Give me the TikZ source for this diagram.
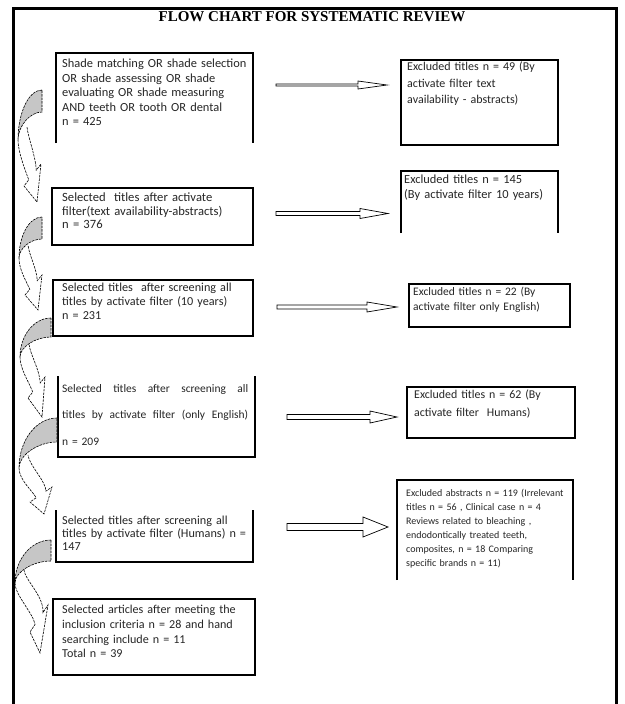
\documentclass[tikz,border=0pt]{standalone}
\usepackage{fontspec}
\setmainfont{Carlito}
\newfontfamily\titlefont{Liberation Serif}
\usetikzlibrary{calc}
\newcommand\fsz[2]{\fontsize{#1}{#2}\selectfont}
\newcommand\jline[1]{\leavevmode\hbox to 186pt{#1}}
\tikzset{
 edge/.style={draw=black, line width=1.1pt},
 frame/.style={inner sep=0, outer sep=0, anchor=north west},
 txt/.style={anchor=base west, inner sep=0, text width=205pt, align=left, text=black!85},
 band/.style={draw=black, line width=0.6pt, dash pattern=on 2.5pt off 1pt, fill=white},
 cres/.style={draw=black, line width=0.6pt, dash pattern=on 2.5pt off 1pt, fill=gray!45},
 barrow/.style={draw=black, line width=0.7pt, fill=white},
}
\newcommand\curvarr[7]{%
 \coordinate (#1tt) at (#2);
 \coordinate (#1tb) at (#3);
 \coordinate (#1ct) at (#4);
 \coordinate (#1wa) at (#5);
 \coordinate (#1hp) at (#6);
 \coordinate (#1wb) at (#7);
 \coordinate (#1bl) at ($(#1wa)!0.28!(#1wb)$);
 \coordinate (#1br) at ($(#1wa)!0.72!(#1wb)$);
 \coordinate (#1ip) at ($(#1ct)+(9,-13)$);
 \path[band] (#1ct) .. controls ($(#1ct)+(0,12)$) and ($(#1bl)!-0.4!(#1hp)$) .. (#1bl) -- (#1wa) -- (#1hp) -- (#1wb) -- (#1br) .. controls ($(#1br)!-0.4!(#1hp)$) and ($(#1ip)+(1,10)$) .. (#1ip);
 \path[cres] (#1tt) .. controls ($(#1tt)!0.55!(#1tt-|#1ct)$) and ($(#1ct|-#1tt)!0.45!(#1ct)$) .. (#1ct) .. controls ($(#1ct)!0.5!(#1ct|-#1tb)$) and ($(#1tb)!0.5!(#1tb-|#1ct)$) .. (#1tb) -- cycle;
}
\newcommand\blockarr[7]{% name, x1, x2, xh, yc, shaft half, head half
 \coordinate (#1s) at (#2,#5);
 \coordinate (#1h) at (#4,#5);
 \path[barrow] (#2,#5-#6) -- (#3,#5-#6) -- (#3,#5-#7) -- (#1h) -- (#3,#5+#7) -- (#3,#5+#6) -- (#2,#5+#6) -- cycle;
}
\begin{document}
\begin{tikzpicture}[x=1pt,y=-1pt]
\useasboundingbox (0,0) rectangle (624,704);
\fill[white] (0,0) rectangle (624,704);
% outer frame
\draw[line width=3pt] (13,704) |- (616,8) -- (616,704);
\node[font=\titlefont\bfseries\fsz{15}{16}] (title) at (312,17) {FLOW CHART FOR SYSTEMATIC REVIEW};

% left column boxes
\node[frame, minimum width=197, minimum height=90] (b1) at (56,53) {};
\draw[edge] (b1.south west) |- (b1.north east) -- (b1.south east);
\node[txt, font=\fsz{12.4}{14.5}] (t1) at (62,67.5) {Shade matching OR shade selection\\OR shade assessing OR shade\\evaluating OR shade measuring\\AND teeth OR tooth OR dental\\n = 425};

\node[frame, edge, minimum width=201, minimum height=57] (b2) at (52,188) {};
\node[txt, font=\fsz{12.6}{13.5}] (t2) at (62,201.5) {Selected\ \ titles after activate\\filter(text availability-abstracts)\\n = 376};

\node[frame, edge, minimum width=200, minimum height=56] (b3) at (53,280) {};
\node[txt, font=\fsz{12.2}{14}] (t3) at (62,291.5) {Selected titles\ \ after screening all\\titles by activate filter (10 years)\\n = 231};

\node[frame, minimum width=197, minimum height=81] (b4) at (58,376) {};
\draw[edge] (b4.north west) |- (b4.south east) -- (b4.north east);
\node[txt, font=\fsz{11.5}{26.5}] (t4) at (62,392) {\jline{Selected\hfill titles\hfill after\hfill screening\hfill all}\\\jline{titles\hfill by\hfill activate\hfill filter\hfill (only\hfill English)}\\n = 209};

\node[frame, minimum width=197, minimum height=52] (b5) at (56,510) {};
\draw[edge] (b5.north west) |- (b5.south east) -- (b5.north east);
\node[txt, font=\fsz{12.2}{13}] (t5) at (62,524.5) {Selected titles after screening all\\titles by activate filter (Humans) n =\\147};

\node[frame, edge, minimum width=202, minimum height=76] (b6) at (53,599) {};
\node[txt, font=\fsz{12.1}{14.8}] (t6) at (62,613.5) {Selected articles after meeting the\\inclusion criteria n = 28 and hand\\searching include n = 11\\Total n = 39};

% right column boxes
\node[frame, edge, minimum width=157, minimum height=85] (r1) at (401,60) {};
\node[txt, font=\fsz{12}{16.5}] (s1) at (407,70.5) {Excluded titles n = 49 (By\\activate filter text\\availability - abstracts)};

\node[frame, minimum width=157, minimum height=62] (r2) at (401,171) {};
\draw[edge] (r2.south west) |- (r2.north east) -- (r2.south east);
\node[txt, font=\fsz{12.4}{14.5}] (s2) at (404,183.5) {Excluded titles n = 145\\(By activate filter 10 years)};

\node[frame, edge, minimum width=161, minimum height=43] (r3) at (409,284) {};
\node[txt, font=\fsz{11.5}{15}] (s3) at (413,295.5) {Excluded titles n = 22 (By\\activate filter only English)};

\node[frame, edge, minimum width=168, minimum height=51] (r4) at (407,387) {};
\node[txt, font=\fsz{11.9}{18}] (s4) at (414,398.5) {Excluded titles n = 62 (By\\activate filter\ \ Humans)};

\node[frame, minimum width=176, minimum height=100] (r5) at (397,480) {};
\draw[edge] (r5.south west) |- (r5.north east) -- (r5.south east);
\node[txt, font=\fsz{10}{14}] (s5) at (406,496) {Excluded abstracts n = 119 (Irrelevant\\titles n = 56 , Clinical case n = 4\\Reviews related to bleaching ,\\endodontically treated teeth,\\composites, n = 18 Comparing\\specific brands n = 11)};

% block arrows to the right
\blockarr{ra}{276}{358}{387}{85}{1}{4}
\blockarr{rb}{276}{360}{388}{213.5}{2}{5}
\blockarr{rc}{277}{367}{397}{307}{2}{5}
\blockarr{rd}{287}{370}{397}{417}{2.5}{6}
\blockarr{re}{287}{363}{388}{527}{3.5}{10}

% curved arrows on the left
\curvarr{ca}{42,90}{42,112}{18,140}{24,186}{37,202}{41,164}
\curvarr{cb}{42,217}{42,239}{19,258}{25,295}{38,310}{42,275}
\curvarr{cc}{51,318}{51,337}{20,357}{28,398}{42,417}{45,377}
\curvarr{cd}{57,418}{57,442}{19,468}{30,502}{44,514}{52,487}
\curvarr{ce}{51,540}{51,561}{15,583}{30,632}{40,653}{48,605}
\end{tikzpicture}
\end{document}
